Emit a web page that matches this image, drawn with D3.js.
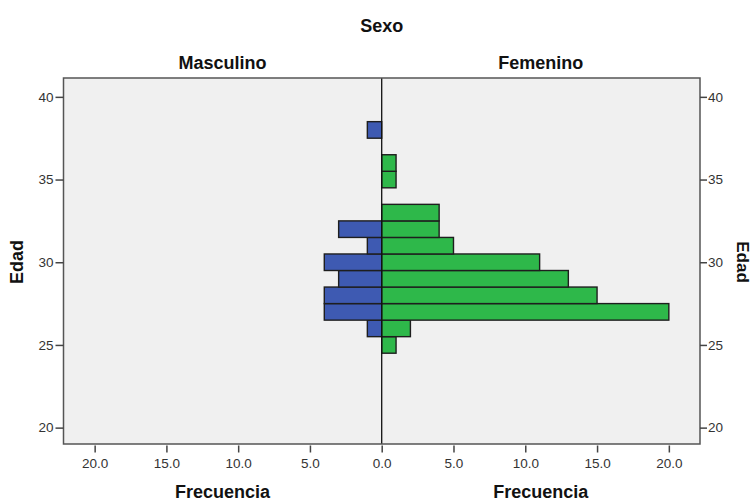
<!DOCTYPE html>
<html>
<head>
<meta charset="utf-8">
<script src="https://cdn.jsdelivr.net/npm/d3@7"></script>
<style>
html,body{margin:0;padding:0;background:#fff;}
svg{display:block;font-family:"Liberation Sans",Arial,sans-serif;}
</style>
</head>
<body>
<svg id="chart" width="753" height="501"></svg>
<script>
// Data
const ages = [25, 26, 27, 28, 29, 30, 31, 32, 33, 34, 35, 36, 37, 38];
const masculino = [0, 1, 4, 4, 3, 4, 1, 3, 0, 0, 0, 0, 0, 1];
const femenino  = [1, 2, 20, 15, 13, 11, 5, 4, 4, 0, 1, 1, 0, 0];
const freqTicks = [0, 5, 10, 15, 20];
const ageTicks = [20, 25, 30, 35, 40];
const panelLabels = ["Masculino", "Femenino"];

const svg = d3.select("#chart");
const L = 63.5, R = 700, T = 78, B = 444, C = 381.7;
const xMax = 22.17;

const xL = d3.scaleLinear().domain([xMax, 0]).range([L, C]);
const xR = d3.scaleLinear().domain([0, xMax]).range([C, R]);
const y = d3.scaleLinear().domain([19.01, 41.14]).range([B, T]);

// plot background
svg.append("rect").attr("x", L).attr("y", T).attr("width", R - L).attr("height", B - T)
  .attr("fill", "#f0f0f0");

const mData = ages.map((a, i) => ({age: a, v: masculino[i]})).filter(d => d.v > 0);
const fData = ages.map((a, i) => ({age: a, v: femenino[i]})).filter(d => d.v > 0);

svg.append("g").selectAll("rect").data(mData).join("rect")
  .attr("x", d => xL(d.v)).attr("width", d => xL(0) - xL(d.v))
  .attr("y", d => y(d.age + 0.5)).attr("height", d => y(d.age - 0.5) - y(d.age + 0.5))
  .attr("fill", "#3e5ab2").attr("stroke", "#1e1e1e").attr("stroke-width", 1.4);

svg.append("g").selectAll("rect").data(fData).join("rect")
  .attr("x", d => xR(0)).attr("width", d => xR(d.v) - xR(0))
  .attr("y", d => y(d.age + 0.5)).attr("height", d => y(d.age - 0.5) - y(d.age + 0.5))
  .attr("fill", "#2eb84a").attr("stroke", "#1e1e1e").attr("stroke-width", 1.4);

// center line
svg.append("line").attr("x1", C).attr("x2", C).attr("y1", T).attr("y2", B)
  .attr("stroke", "#111").attr("stroke-width", 1.3);

// frame
svg.append("rect").attr("x", L).attr("y", T).attr("width", R - L).attr("height", B - T)
  .attr("fill", "none").attr("stroke", "#555").attr("stroke-width", 1.5);

function styleAxis(g) {
  g.select(".domain").remove();
  g.selectAll(".tick line").attr("stroke", "#444").attr("stroke-width", 1.5);
  g.selectAll(".tick text").attr("fill", "#333").style("font-size", "13.5px")
    .style("font-family", '"Liberation Sans",Arial,sans-serif');
}

const fmt = d3.format(".1f");
const bx1 = svg.append("g").attr("transform", `translate(0,${B + 1.5})`)
  .call(d3.axisBottom(xL).tickValues(freqTicks).tickFormat(fmt).tickSize(7).tickPadding(5.5).tickSizeOuter(0));
styleAxis(bx1);
const bx2 = svg.append("g").attr("transform", `translate(0,${B + 1.5})`)
  .call(d3.axisBottom(xR).tickValues(freqTicks.filter(v => v > 0)).tickFormat(fmt).tickSize(7).tickPadding(5.5).tickSizeOuter(0));
styleAxis(bx2);

const ly = svg.append("g").attr("transform", `translate(${L},0)`)
  .call(d3.axisLeft(y).tickValues(ageTicks).tickSize(8).tickPadding(2).tickSizeOuter(0));
styleAxis(ly);
const ry = svg.append("g").attr("transform", `translate(${R},0)`)
  .call(d3.axisRight(y).tickValues(ageTicks).tickSize(7).tickPadding(1).tickSizeOuter(0));
styleAxis(ry);

// titles
function boldText(x, yy, txt, rot, size) {
  const t = svg.append("text").attr("x", x).attr("y", yy)
    .attr("text-anchor", "middle").attr("dominant-baseline", "central")
    .style("font-weight", "bold").style("font-size", (size || 18) + "px").attr("fill", "#111").text(txt);
  if (rot) t.attr("transform", `rotate(${rot},${x},${yy})`);
  return t;
}
boldText(C, 26, "Sexo");
boldText((L + C) / 2, 63, panelLabels[0]);
boldText((C + R) / 2, 63, panelLabels[1]);
boldText((L + C) / 2, 492, "Frecuencia");
boldText((C + R) / 2, 492, "Frecuencia");
boldText(17, 262, "Edad", -90);
boldText(742, 262, "Edad", 90, 17);
</script>
</body>
</html>
